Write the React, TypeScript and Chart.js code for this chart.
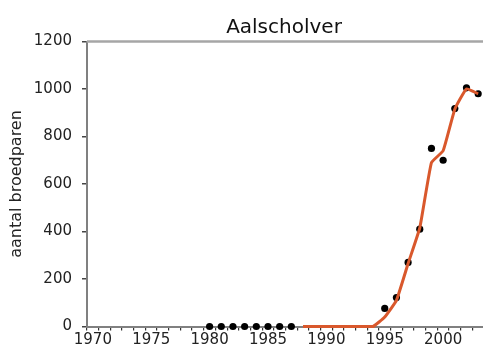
import React, { useEffect, useRef } from "react";
import { Chart, registerables } from "chart.js";

Chart.register(...registerables);

const title = "Aalscholver";
const yTitle = "aantal broedparen";
const firstYear = 1970;
const lastYear = 2003;
const yTicks = [0, 200, 400, 600, 800, 1000, 1200];

const countYears = [1980, 1981, 1982, 1983, 1984, 1985, 1986, 1987, 1995, 1996, 1997, 1998, 1999, 2000, 2001, 2002, 2003];
const countValues = [0, 0, 0, 0, 0, 0, 0, 0, 76, 122, 270, 410, 750, 700, 918, 1005, 980];

const trendYears = [1988, 1989, 1990, 1991, 1992, 1993, 1994, 1995, 1996, 1997, 1998, 1999, 2000, 2001, 2002, 2003];
const trendValues = [0, 0, 0, 0, 0, 0, 0, 40, 110, 265, 415, 690, 740, 915, 1000, 980];

const FONT = "'DejaVu Sans', sans-serif";

export default function App() {
  const ref = useRef<HTMLCanvasElement>(null);

  useEffect(() => {
    if (!ref.current) return;
    const labels: string[] = [];
    for (let y = firstYear; y <= lastYear; y++) labels.push(String(y));
    const toSeries = (ys: number[], vs: number[]) =>
      labels.map((l) => {
        const i = ys.indexOf(Number(l));
        return i >= 0 ? vs[i] : null;
      });

    const frame = {
      id: "frame",
      beforeDatasetsDraw(chart: any) {
        const { ctx, chartArea } = chart;
        ctx.save();
        ctx.strokeStyle = "#a6a6a6";
        ctx.lineWidth = 2.5;
        ctx.beginPath();
        ctx.moveTo(chartArea.left, chartArea.top);
        ctx.lineTo(chartArea.right, chartArea.top);
        ctx.stroke();
        ctx.restore();
      },
      afterDraw(chart: any) {
        const { ctx } = chart;
        ctx.save();
        ctx.fillStyle = "#111";
        ctx.font = `20px ${FONT}`;
        ctx.textAlign = "center";
        ctx.textBaseline = "alphabetic";
        ctx.fillText(title, 284, 32.5);
        ctx.restore();
      },
    };

    const chart = new Chart(ref.current, {
      type: "line",
      data: {
        labels,
        datasets: [
          {
            data: toSeries(trendYears, trendValues),
            borderColor: "#d9582c",
            borderWidth: 3,
            pointRadius: 0,
            tension: 0.12,
            spanGaps: false,
            clip: false as any,
          },
          {
            data: toSeries(countYears, countValues),
            showLine: false,
            pointRadius: 3.6,
            pointBackgroundColor: "#000",
            pointBorderColor: "#000",
            pointBorderWidth: 0,
            clip: false as any,
          },
        ],
      },
      options: {
        animation: false,
        responsive: true,
        maintainAspectRatio: false,
        layout: { padding: { top: 41.5, left: 0, right: 0, bottom: 0 } },
        plugins: { legend: { display: false }, tooltip: { enabled: false }, title: { display: false } },
        scales: {
          x: {
            type: "category",
            offset: true,
            grid: {
              offset: true,
              drawOnChartArea: false,
              drawTicks: true,
              tickLength: 4,
              color: "#333",
              lineWidth: 1.2,
            },
            border: { color: "#808080", width: 2 },
            ticks: {
              autoSkip: false,
              maxRotation: 0,
              minRotation: 0,
              padding: 1,
              color: "#222",
              font: { family: FONT, size: 15 },
              callback: (_v: any, i: number) => {
                const y = firstYear + i;
                return y % 5 === 0 ? String(y) : "";
              },
            },
            afterFit: (s: any) => {
              s.height = 25.5;
            },
          },
          y: {
            min: 0,
            max: 1200,
            afterBuildTicks: (s: any) => {
              s.ticks = yTicks.map((v) => ({ value: v }));
            },
            grid: {
              drawOnChartArea: false,
              drawTicks: true,
              tickLength: 5,
              color: "#444",
              lineWidth: 1.5,
            },
            border: { color: "#808080", width: 2 },
            ticks: {
              padding: 10,
              color: "#222",
              font: { family: FONT, size: 15 },
              callback: (v: any) => String(v),
            },
            title: {
              display: true,
              text: yTitle,
              color: "#222",
              font: { family: FONT, size: 16 },
              padding: { top: 7, bottom: 0 },
            },
            afterFit: (s: any) => {
              s.width = 87;
            },
          },
        },
      },
      plugins: [frame],
    });
    return () => chart.destroy();
  }, []);

  return (
    <div style={{ position: "fixed", left: 0, top: 0, width: 483, height: 352, overflow: "hidden", background: "#fff" }}>
      <div style={{ position: "relative", width: 488, height: 352 }}>
        <canvas ref={ref} />
      </div>
    </div>
  );
}
